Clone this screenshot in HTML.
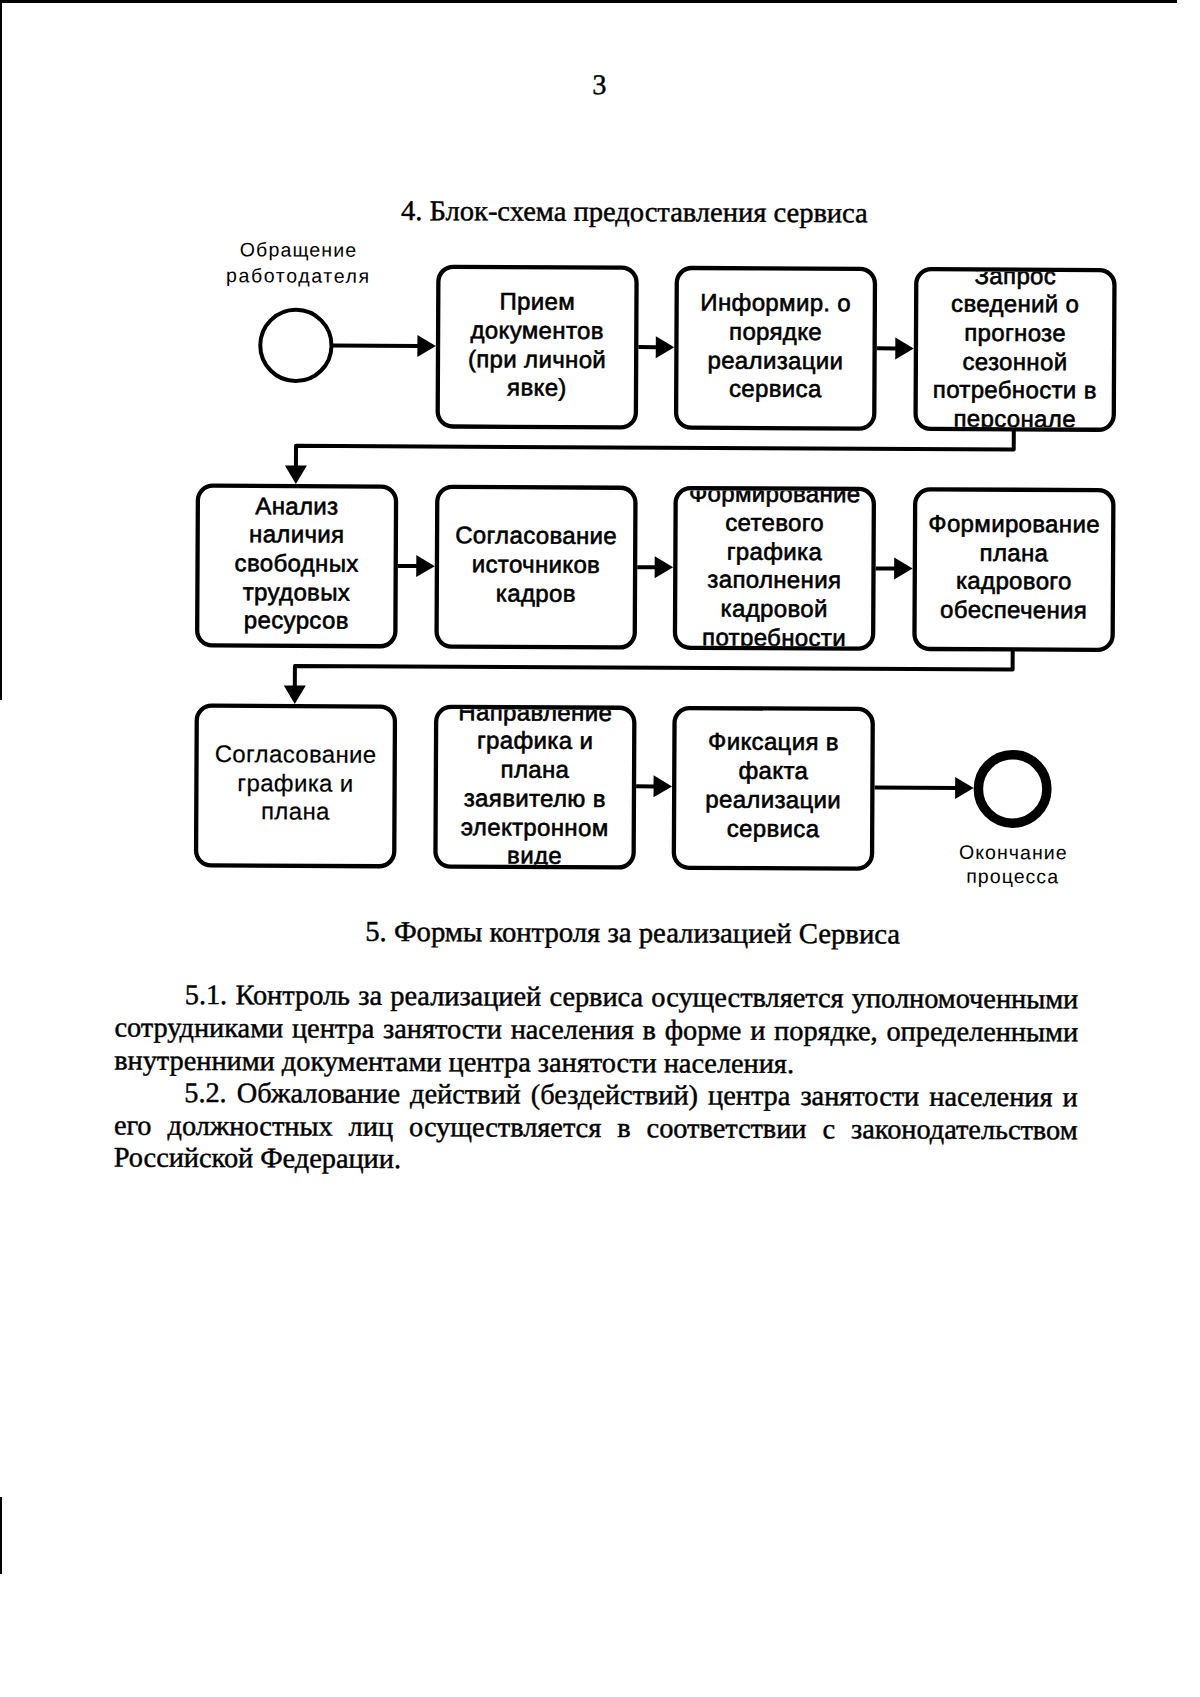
<!DOCTYPE html>
<html><head><meta charset="utf-8"><title>page 3</title>
<style>
html,body{margin:0;padding:0;background:#fff;}
body{width:1200px;height:1697px;overflow:hidden;position:relative;}
#pg{position:absolute;left:0;top:0;width:1200px;height:1697px;transform:rotate(0.29deg);transform-origin:600px 600px;}
.t{position:absolute;font-family:"Liberation Serif", serif;color:#000;white-space:nowrap;-webkit-text-stroke:0.45px #000;}
.t[style*="justify"]{white-space:normal;}
.bx{position:absolute;overflow:hidden;}
.bt{position:absolute;left:-20px;right:-20px;text-align:center;font-family:"Liberation Sans", sans-serif;color:#000;white-space:nowrap;-webkit-text-stroke:0.6px #000;letter-spacing:0.35px;}
.lb{position:absolute;text-align:center;font-family:"Liberation Sans", sans-serif;color:#000;white-space:nowrap;}
.ov{position:absolute;left:0;top:0;}
.edge{position:absolute;background:#000;}
</style></head><body>
<div id="pg">
<div class="t" style="left:96.80px;top:65.25px;width:1000px;text-align:center;font-size:28.3px;line-height:40px;">3</div>
<div class="t" style="left:132.50px;top:192.38px;width:1000px;text-align:center;font-size:28.5px;line-height:40px;">4. Блок-схема предоставления сервиса</div>
<div class="t" style="left:134.40px;top:911.51px;width:1000px;text-align:center;font-size:28.7px;line-height:40px;">5. Формы контроля за реализацией Сервиса</div>
<div class="t" style="left:186.80px;top:977.45px;width:893.50px;text-align:justify;text-align-last:justify;font-size:28.3px;line-height:40px;">5.1. Контроль за реализацией сервиса осуществляется уполномоченными</div>
<div class="t" style="left:116.60px;top:1010.05px;width:963.70px;text-align:justify;text-align-last:justify;font-size:28.3px;line-height:40px;">сотрудниками центра занятости населения в форме и порядке, определенными</div>
<div class="t" style="left:116.60px;top:1042.65px;width:963.70px;font-size:28.3px;line-height:40px;white-space:nowrap;">внутренними документами центра занятости населения.</div>
<div class="t" style="left:186.80px;top:1075.25px;width:893.50px;text-align:justify;text-align-last:justify;font-size:28.3px;line-height:40px;">5.2. Обжалование действий (бездействий) центра занятости населения и</div>
<div class="t" style="left:116.60px;top:1107.85px;width:963.70px;text-align:justify;text-align-last:justify;font-size:28.3px;line-height:40px;">его должностных лиц осуществляется в соответствии с законодательством</div>
<div class="t" style="left:116.60px;top:1140.45px;width:963.70px;font-size:28.3px;line-height:40px;white-space:nowrap;">Российской Федерации.</div>
<div class="bx" style="left:438.90px;top:269.70px;width:193.90px;height:155.40px"><div class="bt" style="top:18.58px;font-size:24px;line-height:28.7px;">Прием<br>документов<br>(при личной<br>явке)</div></div>
<div class="bx" style="left:677.30px;top:269.70px;width:193.90px;height:155.40px"><div class="bt" style="top:18.58px;font-size:24px;line-height:28.7px;">Информир. о<br>порядке<br>реализации<br>сервиса</div></div>
<div class="bx" style="left:916.80px;top:269.70px;width:193.90px;height:155.40px"><div class="bt" style="top:-10.12px;font-size:24px;line-height:28.7px;">Запрос<br>сведений о<br>прогнозе<br>сезонной<br>потребности в<br>персонале</div></div>
<div class="bx" style="left:199.50px;top:489.80px;width:193.90px;height:155.40px"><div class="bt" style="top:3.83px;font-size:24px;line-height:28.7px;">Анализ<br>наличия<br>свободных<br>трудовых<br>ресурсов</div></div>
<div class="bx" style="left:438.90px;top:489.80px;width:193.90px;height:155.40px"><div class="bt" style="top:32.53px;font-size:24px;line-height:28.7px;">Согласование<br>источников<br>кадров</div></div>
<div class="bx" style="left:677.30px;top:489.80px;width:193.90px;height:155.40px"><div class="bt" style="top:-10.52px;font-size:24px;line-height:28.7px;">Формирование<br>сетевого<br>графика<br>заполнения<br>кадровой<br>потребности</div></div>
<div class="bx" style="left:916.80px;top:489.80px;width:193.90px;height:155.40px"><div class="bt" style="top:18.18px;font-size:24px;line-height:28.7px;">Формирование<br>плана<br>кадрового<br>обеспечения</div></div>
<div class="bx" style="left:199.50px;top:709.80px;width:193.90px;height:155.40px"><div class="bt" style="top:32.03px;font-size:24px;line-height:28.7px;-webkit-text-stroke:0.2px #000;">Согласование<br>графика и<br>плана</div></div>
<div class="bx" style="left:438.90px;top:709.80px;width:193.90px;height:155.40px"><div class="bt" style="top:-11.02px;font-size:24px;line-height:28.7px;">Направление<br>графика и<br>плана<br>заявителю в<br>электронном<br>виде</div></div>
<div class="bx" style="left:677.30px;top:709.80px;width:193.90px;height:155.40px"><div class="bt" style="top:17.68px;font-size:24px;line-height:28.7px;">Фиксация в<br>факта<br>реализации<br>сервиса</div></div>
<svg class="ov" width="1200" height="1697" viewBox="0 0 1200 1697"><rect x="436.75" y="267.55" width="198.20" height="159.70" rx="15" ry="15" fill="none" stroke="#000" stroke-width="4.3"/><rect x="675.15" y="267.55" width="198.20" height="159.70" rx="15" ry="15" fill="none" stroke="#000" stroke-width="4.3"/><rect x="914.65" y="267.55" width="198.20" height="159.70" rx="15" ry="15" fill="none" stroke="#000" stroke-width="4.3"/><rect x="197.35" y="487.65" width="198.20" height="159.70" rx="15" ry="15" fill="none" stroke="#000" stroke-width="4.3"/><rect x="436.75" y="487.65" width="198.20" height="159.70" rx="15" ry="15" fill="none" stroke="#000" stroke-width="4.3"/><rect x="675.15" y="487.65" width="198.20" height="159.70" rx="15" ry="15" fill="none" stroke="#000" stroke-width="4.3"/><rect x="914.65" y="487.65" width="198.20" height="159.70" rx="15" ry="15" fill="none" stroke="#000" stroke-width="4.3"/><rect x="197.35" y="707.65" width="198.20" height="159.70" rx="15" ry="15" fill="none" stroke="#000" stroke-width="4.3"/><rect x="436.75" y="707.65" width="198.20" height="159.70" rx="15" ry="15" fill="none" stroke="#000" stroke-width="4.3"/><rect x="675.15" y="707.65" width="198.20" height="159.70" rx="15" ry="15" fill="none" stroke="#000" stroke-width="4.3"/><circle cx="294.6" cy="347.0" r="35.6" fill="none" stroke="#000" stroke-width="4"/><circle cx="1013.6" cy="786.8" r="34.25" fill="none" stroke="#000" stroke-width="9.5"/><line x1="331.20" y1="346.90" x2="417.10" y2="346.90" stroke="#000" stroke-width="4.0"/><polygon points="416.10,335.90 434.60,346.90 416.10,357.90" fill="#000"/><line x1="637.10" y1="346.90" x2="655.50" y2="346.90" stroke="#000" stroke-width="4.0"/><polygon points="654.50,335.90 673.00,346.90 654.50,357.90" fill="#000"/><line x1="875.50" y1="346.90" x2="895.00" y2="346.90" stroke="#000" stroke-width="4.0"/><polygon points="894.00,335.90 912.50,346.90 894.00,357.90" fill="#000"/><line x1="397.70" y1="567.00" x2="417.10" y2="567.00" stroke="#000" stroke-width="4.0"/><polygon points="416.10,556.00 434.60,567.00 416.10,578.00" fill="#000"/><line x1="637.10" y1="567.00" x2="655.50" y2="567.00" stroke="#000" stroke-width="4.0"/><polygon points="654.50,556.00 673.00,567.00 654.50,578.00" fill="#000"/><line x1="875.50" y1="567.00" x2="895.00" y2="567.00" stroke="#000" stroke-width="4.0"/><polygon points="894.00,556.00 912.50,567.00 894.00,578.00" fill="#000"/><line x1="637.10" y1="786.10" x2="655.50" y2="786.10" stroke="#000" stroke-width="4.0"/><polygon points="654.50,775.10 673.00,786.10 654.50,797.10" fill="#000"/><line x1="875.50" y1="786.10" x2="957.10" y2="786.10" stroke="#000" stroke-width="4.0"/><polygon points="956.10,775.10 974.60,786.10 956.10,797.10" fill="#000"/><polyline points="1012.95,427.40 1012.95,447.40 295.25,447.40 295.25,468.00" fill="none" stroke="#000" stroke-width="4.0" stroke-linejoin="round"/><polygon points="284.25,467.00 295.25,485.50 306.25,467.00" fill="#000"/><polyline points="1012.95,647.50 1012.95,667.50 295.25,667.50 295.25,688.00" fill="none" stroke="#000" stroke-width="4.0" stroke-linejoin="round"/><polygon points="284.25,687.00 295.25,705.50 306.25,687.00" fill="#000"/></svg>
<div class="lb" style="left:146.80px;top:239.44px;width:300px;font-size:19.5px;line-height:25.6px;letter-spacing:0px;text-indent:0px"><span style="letter-spacing:1.15px">Обращение</span><br><span style="letter-spacing:1.65px">работодателя</span></div>
<div class="lb" style="left:864.10px;top:839.34px;width:300px;font-size:19.5px;line-height:23.8px;letter-spacing:1.05px;text-indent:1.05px">Окончание<br>процесса</div>
</div>
<div class="edge" style="left:0;top:0;width:1177px;height:3px"></div>
<div class="edge" style="left:0;top:0;width:2px;height:700px"></div>
<div class="edge" style="left:0;top:1497px;width:2px;height:77px"></div>
</body></html>
